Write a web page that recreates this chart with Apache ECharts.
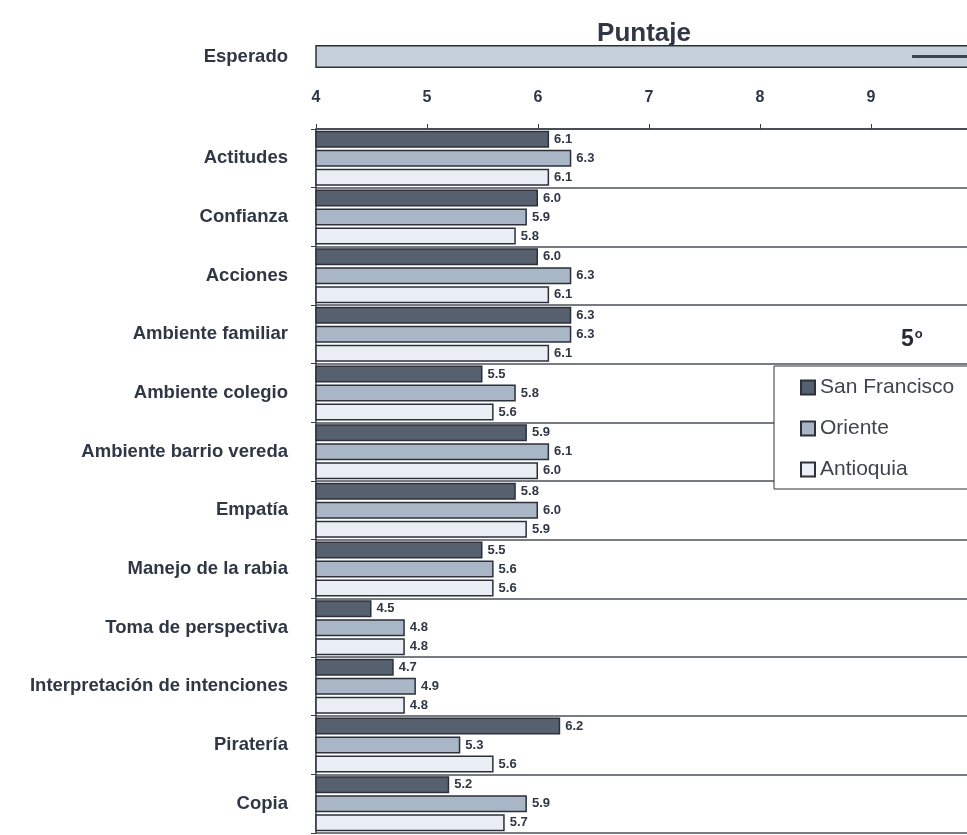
<!DOCTYPE html>
<html>
<head>
<meta charset="utf-8">
<script src="https://cdn.jsdelivr.net/npm/echarts@6/dist/echarts.min.js"></script>
<style>
  html, body { margin: 0; padding: 0; background: #fff; }
  #chart { width: 967px; height: 835px; }
</style>
</head>
<body>
<div id="chart"></div>
<script>
var categorias = ['Actitudes', 'Confianza', 'Acciones', 'Ambiente familiar', 'Ambiente colegio',
    'Ambiente barrio vereda', 'Empatía', 'Manejo de la rabia', 'Toma de perspectiva',
    'Interpretación de intenciones', 'Piratería', 'Copia']
var sanFrancisco = [6.1, 6.0, 6.0, 6.3, 5.5, 5.9, 5.8, 5.5, 4.5, 4.7, 6.2, 5.2]
var oriente = [6.3, 5.9, 6.3, 6.3, 5.8, 6.1, 6.0, 5.6, 4.8, 4.9, 5.3, 5.9]
var antioquia = [6.1, 5.8, 6.1, 6.1, 5.6, 6.0, 5.9, 5.6, 4.8, 4.8, 5.6, 5.7]
var esperado = [10]
var esperadoMarca = [9.37, 10]
var ejeMin = 4
var ejeMax = 10

var oscuro = '#2f3644'
var borde = '#2b303b'

var echart = echarts.init(document.getElementById('chart'))

function serieBarra(nombre, datos, color) {
    return {
        name: nombre,
        type: 'bar',
        xAxisIndex: 0,
        yAxisIndex: 0,
        data: datos,
        barWidth: 17,
        barGap: '12%',
        itemStyle: {
            color: color,
            borderColor: borde,
            borderWidth: 1.5
        },
        label: {
            show: true,
            position: 'right',
            distance: 5,
            color: oscuro,
            fontSize: 13,
            fontWeight: 'bold',
            fontFamily: 'Liberation Sans',
            formatter: function (p) { return p.value.toFixed(1) }
        }
    }
}

var etiquetaCat = {
    margin: 28,
    color: oscuro,
    fontSize: 18.5,
    fontWeight: 'bold',
    fontFamily: 'Liberation Sans'
}

var option = {
    backgroundColor: '#fff',
    animation: false,
    title: [{
        text: 'Puntaje',
        left: 639,
        top: 16,
        textAlign: 'center',
        textStyle: { fontSize: 26, fontWeight: 'bold', color: oscuro, fontFamily: 'Liberation Sans' }
    }, {
        text: '5{s|o}',
        left: 896,
        top: 323,
        textStyle: {
            fontSize: 23, fontWeight: 'bold', color: '#262b33', fontFamily: 'Liberation Sans',
            rich: { s: { fontSize: 13, fontWeight: 'bold', color: '#262b33', verticalAlign: 'top', padding: [0, 0, 10, 1] } }
        }
    }],
    legend: {
        orient: 'vertical',
        left: 774,
        top: 366,
        padding: [11, 30, 9, 26],
        itemGap: 20,
        itemWidth: 14,
        itemHeight: 14,
        backgroundColor: '#fff',
        borderColor: '#333',
        borderWidth: 1,
        borderRadius: 0,
        icon: 'rect',
        data: ['San Francisco', 'Oriente', 'Antioquia'],
        textStyle: { fontSize: 21, color: '#3f444d', fontFamily: 'Liberation Sans' }
    },
    grid: [
        { left: 316, width: 666, top: 129, height: 704, outerBoundsMode: 'none' },
        { left: 316, width: 666, top: 45, height: 23, outerBoundsMode: 'none' }
    ],
    xAxis: [{
        type: 'value',
        gridIndex: 0,
        position: 'top',
        min: ejeMin,
        max: ejeMax,
        interval: 1,
        axisLine: { show: true, lineStyle: { color: '#3a3f48', width: 1.5 } },
        axisTick: { show: true, length: 5, lineStyle: { color: '#3a3f48' } },
        axisLabel: {
            margin: 23,
            color: oscuro,
            fontSize: 16,
            fontWeight: 'bold',
            fontFamily: 'Liberation Sans Narrow, Liberation Sans'
        },
        splitLine: { show: false }
    }, {
        type: 'value',
        gridIndex: 1,
        min: ejeMin,
        max: ejeMax,
        show: false
    }],
    yAxis: [{
        type: 'category',
        gridIndex: 0,
        inverse: true,
        data: categorias,
        axisLine: { show: true, lineStyle: { color: '#3a3f48', width: 1.5 } },
        axisTick: { show: true, length: 5, lineStyle: { color: '#3a3f48' } },
        axisLabel: etiquetaCat,
        splitLine: { show: true, lineStyle: { color: '#4a4f58', width: 1.5 } }
    }, {
        type: 'category',
        gridIndex: 1,
        data: ['Esperado'],
        axisLine: { show: false },
        axisTick: { show: false },
        axisLabel: etiquetaCat
    }],
    series: [
        serieBarra('San Francisco', sanFrancisco, '#56606e'),
        serieBarra('Oriente', oriente, '#a9b6c5'),
        serieBarra('Antioquia', antioquia, '#e9eff5'),
        {
            name: 'Esperado',
            type: 'bar',
            xAxisIndex: 1,
            yAxisIndex: 1,
            data: esperado,
            barWidth: 23,
            itemStyle: { color: '#c6d0db', borderColor: borde, borderWidth: 1.5 },
            markLine: {
                silent: true,
                symbol: 'none',
                label: { show: false },
                lineStyle: { color: '#3b4250', width: 3, type: 'solid' },
                data: [[{ coord: [esperadoMarca[0], 0] }, { coord: [esperadoMarca[1], 0] }]]
            }
        }
    ]
}

echart.setOption(option)
</script>
</body>
</html>
